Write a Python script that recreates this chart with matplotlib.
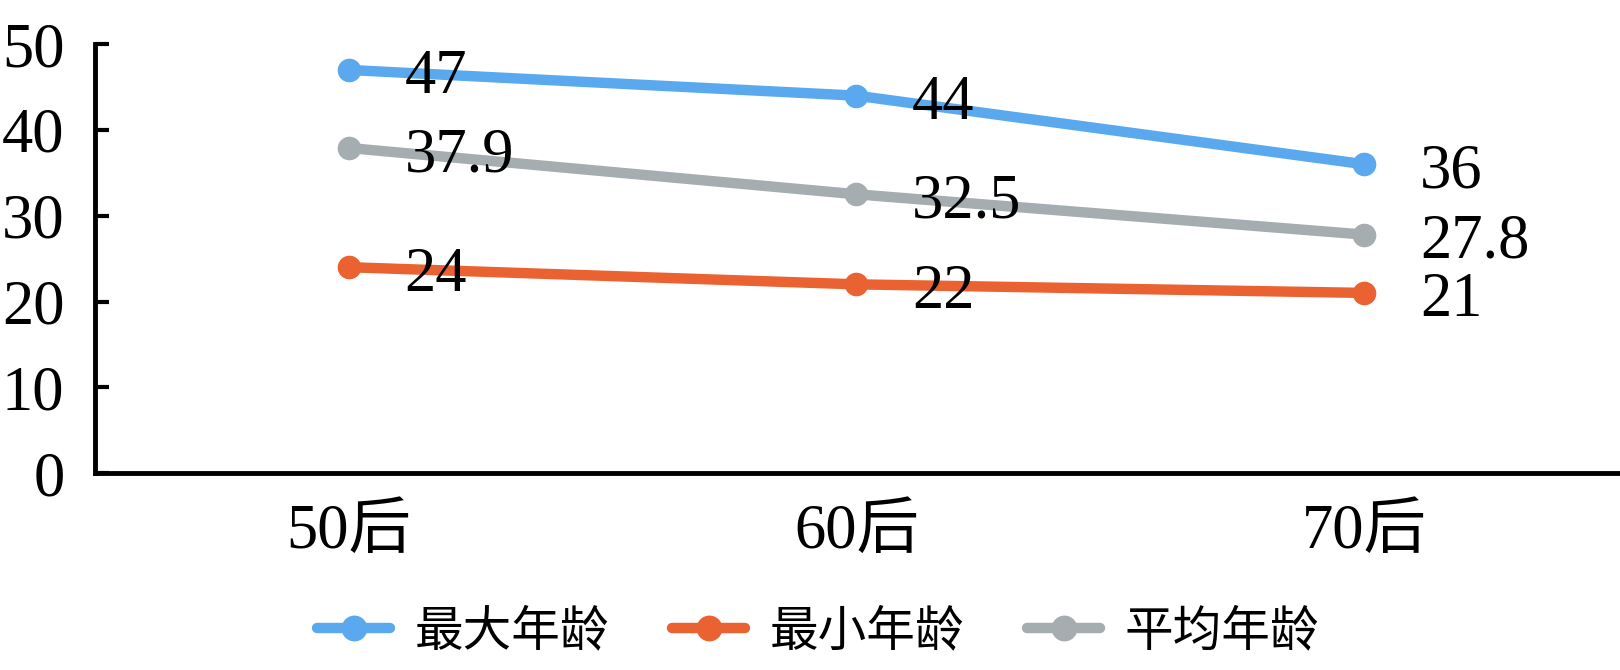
import matplotlib
matplotlib.use("Agg")
import matplotlib.pyplot as plt

plt.rcParams['font.family'] = ['Liberation Serif', 'Noto Sans CJK SC', 'DejaVu Sans']

categories = ['50后', '60后', '70后']
max_age = [47, 44, 36]
min_age = [24, 22, 21]
avg_age = [37.9, 32.5, 27.8]
series_names = ['最大年龄', '最小年龄', '平均年龄']
colors = ['#5AA9EE', '#EA6232', '#A6ADB0']
yticks = [0, 10, 20, 30, 40, 50]

fig = plt.figure(figsize=(16.2, 6.7), dpi=100)
ax = fig.add_axes([0.0586, 0.294, 0.9402, 0.640])

x = list(range(len(categories)))
for vals, name, c in zip([max_age, min_age, avg_age], series_names, colors):
    ax.plot(x, vals, color=c, lw=7.5, marker='o', ms=16, label=name,
            solid_capstyle='round')
    for xi, v in zip(x, vals):
        lab = f"{v:g}"
        ax.annotate(lab, (xi, v), xytext=(40, -6), textcoords='offset points',
                    ha='left', va='center', fontsize=45, color='black')

ax.set_xlim(-0.5, 2.5)
ax.set_ylim(0, 50)
ax.set_yticks(yticks)
ax.set_xticks(x)
ax.set_xticklabels(categories)
for s in ['top', 'right']:
    ax.spines[s].set_visible(False)
for s in ['left', 'bottom']:
    ax.spines[s].set_linewidth(3.5)
ax.tick_params(axis='y', direction='in', length=10, width=3, labelsize=45, pad=22)
ax.tick_params(axis='x', length=0, labelsize=45, pad=22)

leg = fig.legend(loc='center', bbox_to_anchor=(0.505, 0.057), ncol=3, frameon=False,
                 fontsize=35, handlelength=1.5, columnspacing=1.3, handletextpad=0.5,
                 markerscale=1.1)

fig.savefig('out.png', dpi=100)
